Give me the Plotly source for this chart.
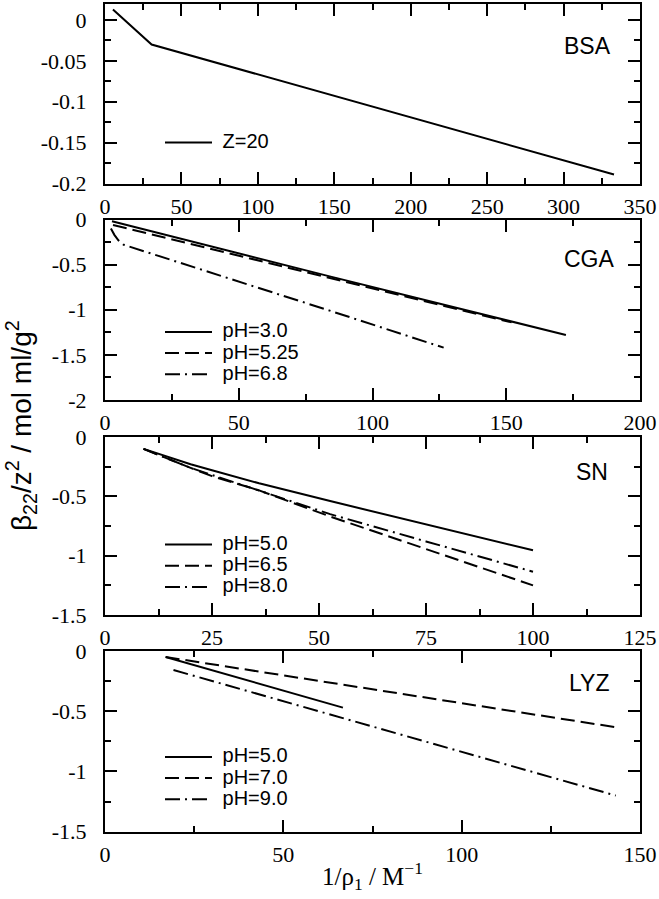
import plotly.graph_objects as go

W, H = 659, 899

# ---- data ----
bsa_x = [5.2, 30.5, 333]
bsa_z20 = [0.013, -0.030, -0.189]

cga_x_30 = [2.6, 84, 172.3]
cga_ph30 = [-0.02, -0.63, -1.28]
cga_x_525 = [3, 84, 152]
cga_ph525 = [-0.06, -0.65, -1.14]
cga_x_68 = [2.2, 3.5, 5, 7, 84, 126.6]
cga_ph68 = [-0.10, -0.17, -0.23, -0.28, -1.01, -1.42]

sn_x = [9, 15, 20, 25, 36, 52.6, 75, 100]
sn_ph50 = [-0.10, -0.17, -0.23, -0.28, -0.39, -0.54, -0.735, -0.955]
sn_ph65 = [-0.10, -0.19, -0.26, -0.33, -0.45, -0.67, -0.945, -1.25]
sn_ph80 = [-0.10, -0.19, -0.26, -0.32, -0.45, -0.65, -0.88, -1.135]

lyz_x_50 = [17, 66.7]
lyz_ph50 = [-0.05, -0.47]
lyz_x_70 = [17, 143.2]
lyz_ph70 = [-0.05, -0.633]
lyz_x_90 = [19.2, 143.2]
lyz_ph90 = [-0.158, -1.20]

bsa_yticks = [-0.2, -0.15, -0.1, -0.05, 0]
bsa_ylabels = ["-0.2", "-0.15", "-0.1", "-0.05", "0"]
cga_yticks = [-2, -1.5, -1, -0.5, 0]
cga_ylabels = ["-2", "-1.5", "-1", "-0.5", "0"]
low_yticks = [-1.5, -1, -0.5, 0]
low_ylabels = ["-1.5", "-1", "-0.5", "0"]

SOLID = "solid"
DASH = "14px,6px"
DASHDOT = "15px,5px,2px,5px"


def px_x(v):
    return v / W


def px_y(v):
    return 1 - v / H


def line(x, y, name, dash, axis, legend):
    return go.Scatter(
        x=x, y=y, mode="lines", xaxis="x" + axis, yaxis="y" + axis,
        legend=legend, showlegend=True,
        name='<span style="font-size:20px">&nbsp;' + name + "</span>",
        line=dict(color="black", width=2, dash=dash),
    )


fig = go.Figure()
fig.add_trace(line(bsa_x, bsa_z20, "Z=20", SOLID, "", "legend"))
fig.add_trace(line(cga_x_30, cga_ph30, "pH=3.0", SOLID, "2", "legend2"))
fig.add_trace(line(cga_x_525, cga_ph525, "pH=5.25", DASH, "2", "legend2"))
fig.add_trace(line(cga_x_68, cga_ph68, "pH=6.8", DASHDOT, "2", "legend2"))
fig.add_trace(line(sn_x, sn_ph50, "pH=5.0", SOLID, "3", "legend3"))
fig.add_trace(line(sn_x, sn_ph65, "pH=6.5", DASH, "3", "legend3"))
fig.add_trace(line(sn_x, sn_ph80, "pH=8.0", DASHDOT, "3", "legend3"))
fig.add_trace(line(lyz_x_50, lyz_ph50, "pH=5.0", SOLID, "4", "legend4"))
fig.add_trace(line(lyz_x_70, lyz_ph70, "pH=7.0", DASH, "4", "legend4"))
fig.add_trace(line(lyz_x_90, lyz_ph90, "pH=9.0", DASHDOT, "4", "legend4"))

tick_font = dict(family="Liberation Serif", size=22, color="black")


def axis(rng, minor_dtick, domain, anchor, tickvals=None, ticktext=None, dtick=None, standoff=10):
    a = dict(
        range=rng, domain=domain, anchor=anchor, automargin=False,
        showline=True, linecolor="black", linewidth=2, mirror="allticks",
        ticks="inside", ticklen=12, tickwidth=2, tickcolor="black",
        showgrid=False, zeroline=False, tickfont=tick_font,
        ticklabelstandoff=standoff,
        minor=dict(ticks="inside", ticklen=6, tickwidth=2, tickcolor="black",
                   tickmode="linear", tick0=0, dtick=minor_dtick, showgrid=False),
    )
    if tickvals is not None:
        a.update(tickmode="array", tickvals=tickvals, ticktext=ticktext)
    else:
        a.update(tickmode="linear", tick0=0, dtick=dtick)
    return a


xdom = [px_x(105), px_x(640)]
panels = [(4, 183.5), (219.5, 400), (437, 615), (651, 831.7)]
ydoms = [[px_y(b), px_y(t)] for t, b in panels]

layout = dict(
    template="none",
    width=W, height=H, margin=dict(l=0, r=0, t=0, b=0, pad=0, autoexpand=False),
    paper_bgcolor="white", plot_bgcolor="white", showlegend=True,
    font=dict(family="Liberation Sans", color="black"),
    xaxis=axis([0, 350], 25, xdom, "y", dtick=50, standoff=2),
    yaxis=axis([-0.2, 0.0196], 0.025, ydoms[0], "x", bsa_yticks, bsa_ylabels, standoff=12),
    xaxis2=axis([0, 200], 25, xdom, "y2", dtick=50, standoff=2),
    yaxis2=axis([-2, 0], 0.25, ydoms[1], "x2", cga_yticks, cga_ylabels, standoff=12),
    xaxis3=axis([0, 125], 12.5, xdom, "y3", dtick=25, standoff=2),
    yaxis3=axis([-1.5, 0], 0.25, ydoms[2], "x3", low_yticks, low_ylabels, standoff=12),
    xaxis4=axis([0, 150], 25, xdom, "y4", dtick=50, standoff=2),
    yaxis4=axis([-1.5, 0], 0.25, ydoms[3], "x4", low_yticks, low_ylabels, standoff=12),
)

legend_style = dict(
    xref="paper", yref="paper", xanchor="left", yanchor="middle",
    bgcolor="rgba(0,0,0,0)", borderwidth=0, itemwidth=47,
    font=dict(family="Liberation Sans", size=14, color="black"),
)
for key, ymid in [("legend", 143), ("legend2", 353.3), ("legend3", 566), ("legend4", 778.3)]:
    layout[key] = dict(legend_style, x=px_x(160), y=px_y(ymid))

fig.update_layout(**layout)

labels = [("BSA", 587, 46), ("CGA", 589, 259), ("SN", 592, 472), ("LYZ", 589, 683)]
for text, cx, cy in labels:
    fig.add_annotation(
        text=text, x=px_x(cx), y=px_y(cy), xref="paper", yref="paper",
        xanchor="center", yanchor="middle", showarrow=False,
        font=dict(family="Liberation Sans", size=23, color="black"),
    )

fig.add_annotation(
    text="β<sub>22</sub>/z<sup>2</sup> / mol ml/g<sup>2</sup>",
    x=px_x(21), y=px_y(426), xref="paper", yref="paper",
    xanchor="center", yanchor="middle", textangle=-90, showarrow=False,
    font=dict(family="Liberation Sans", size=28, color="black"),
)
fig.add_annotation(
    text="1/ρ<sub>1</sub> / M<sup>−1</sup>",
    x=px_x(372.5), y=px_y(876), xref="paper", yref="paper",
    xanchor="center", yanchor="middle", showarrow=False,
    font=dict(family="Liberation Serif", size=25, color="black"),
)

fig.write_html(
    "out.html",
    config={"displayModeBar": False},
    post_script="document.body.style.margin='0';document.documentElement.style.overflow='hidden';",
)
